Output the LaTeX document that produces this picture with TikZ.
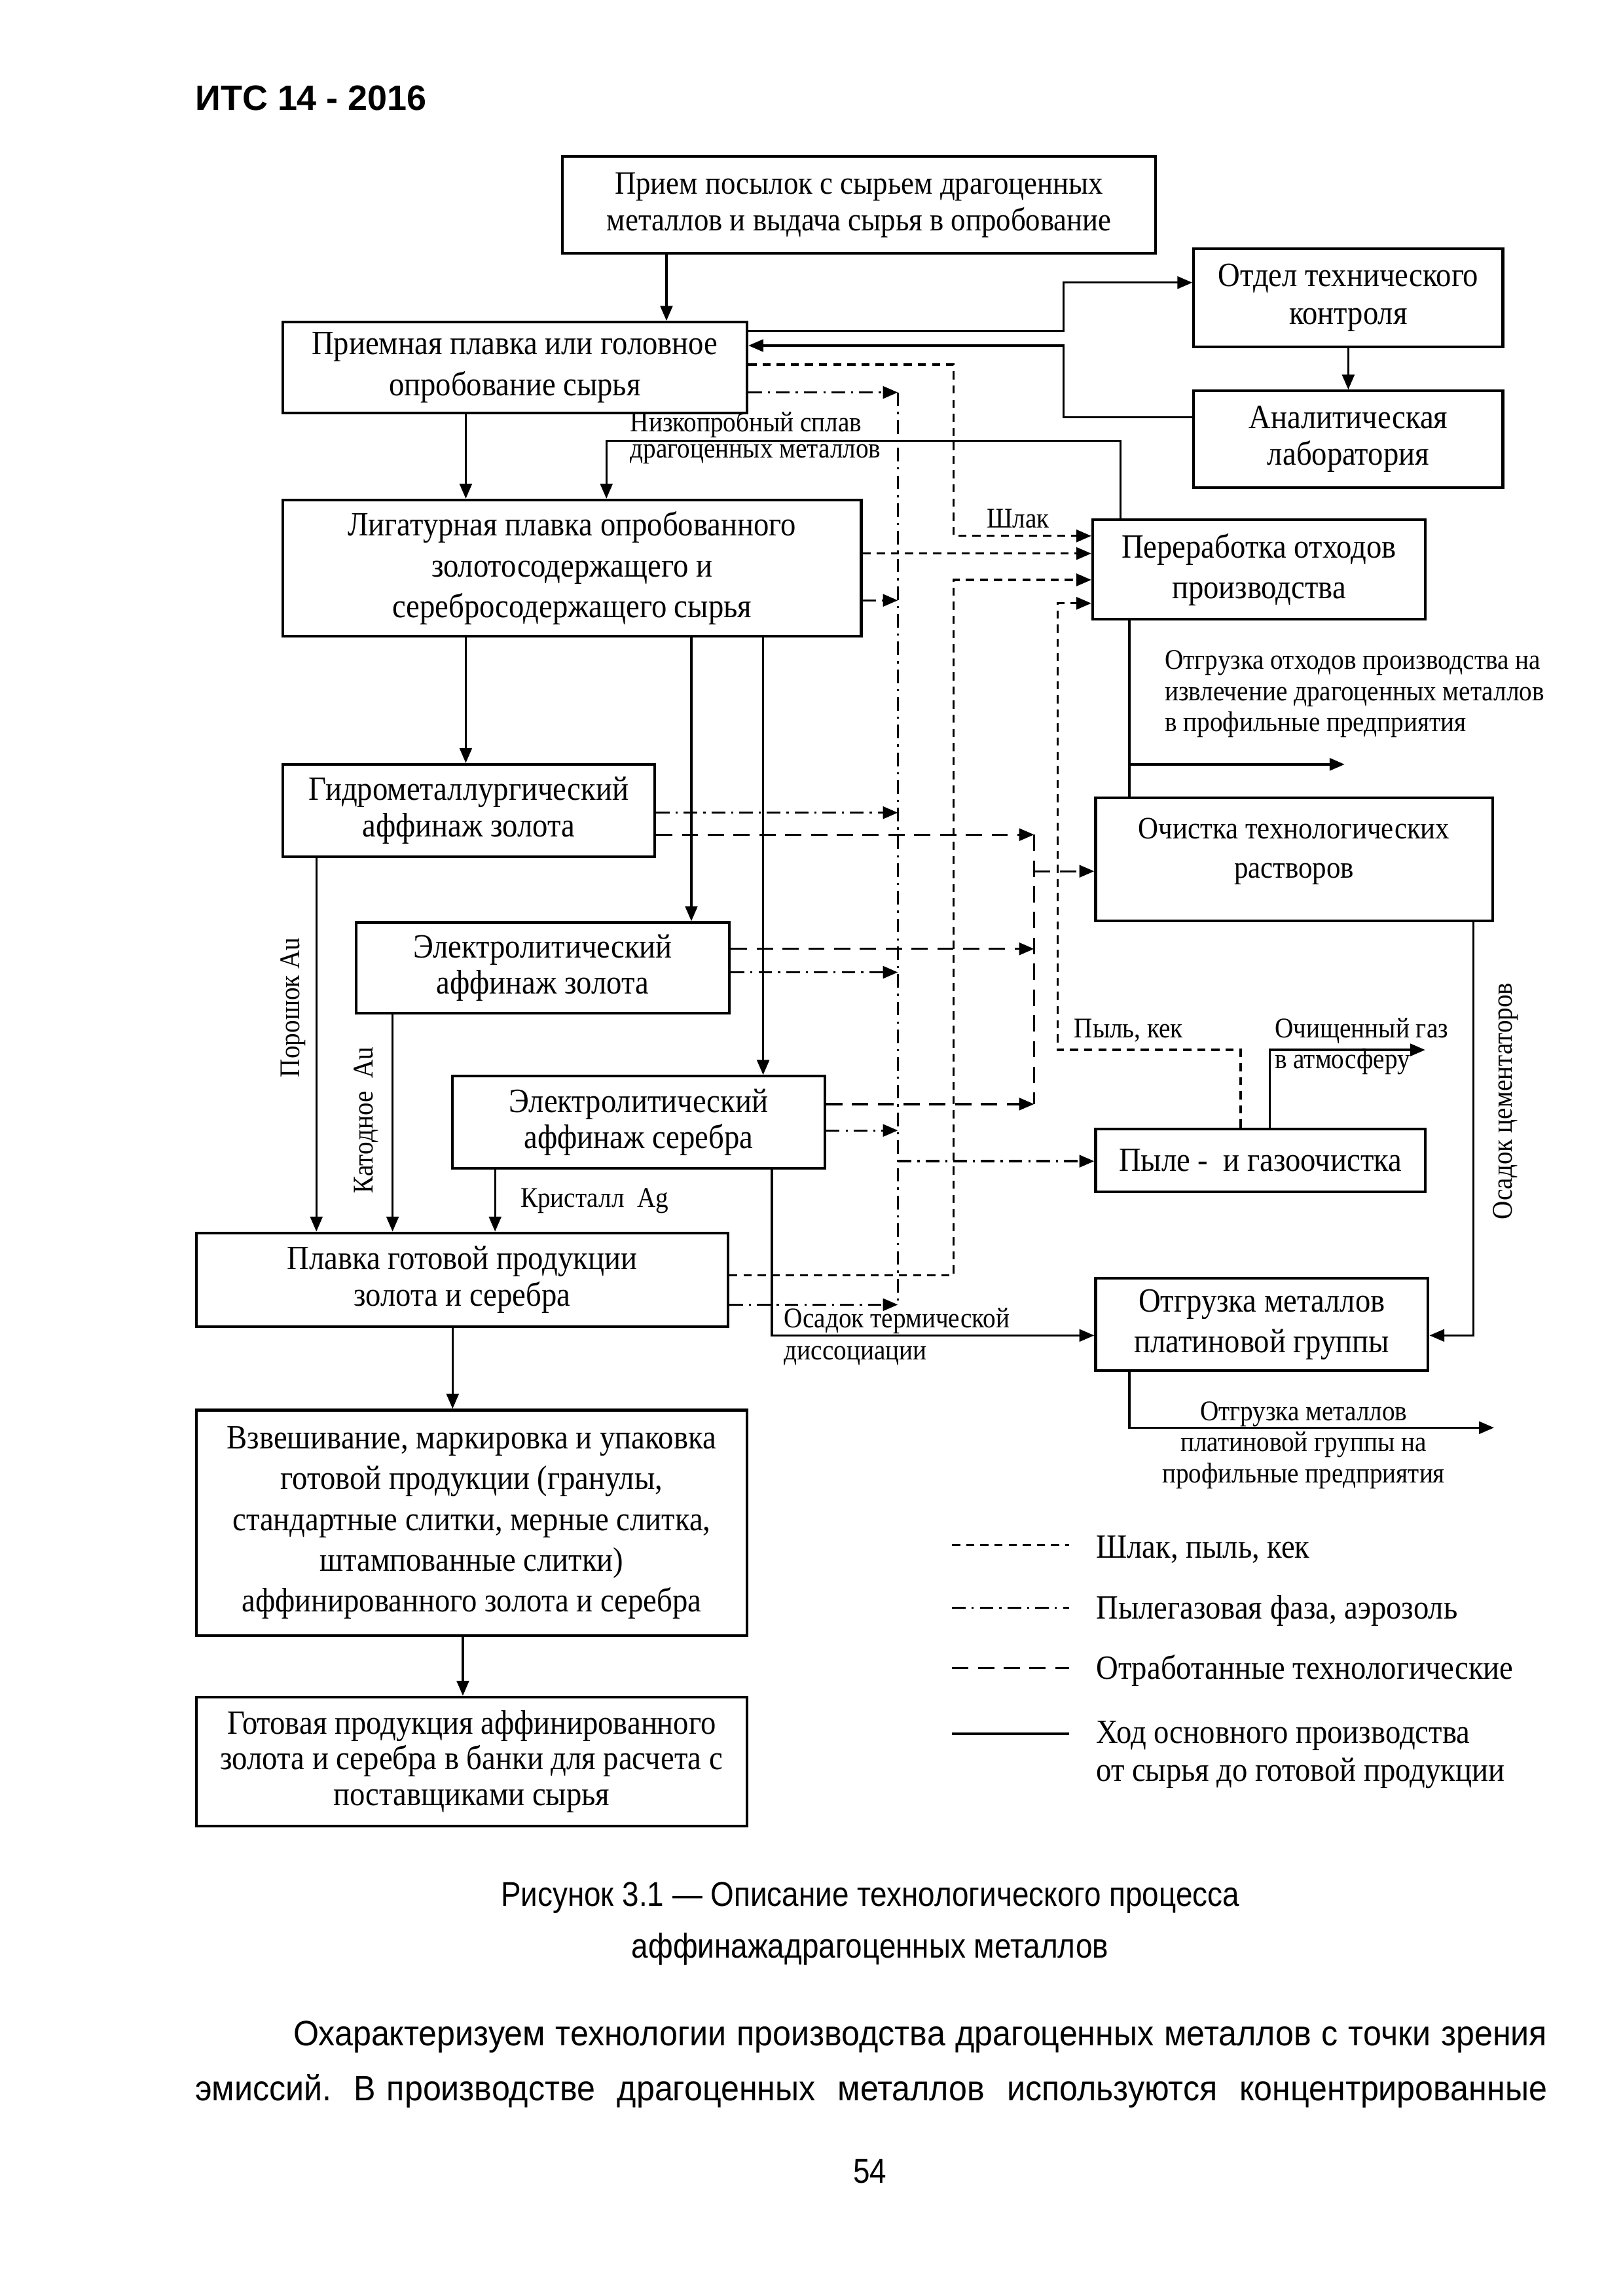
\documentclass[tikz,border=0pt]{standalone}
\usepackage{fontspec}
\setmainfont[FakeStretch=0.9]{Liberation Serif}
\newfontfamily\arialfont{Liberation Sans}
\newfontfamily\arialnarrow[FakeStretch=0.87]{Liberation Sans}
\newfontfamily\bodyfont[FakeStretch=0.93]{Liberation Sans}
\usetikzlibrary{arrows.meta}

\tikzset{
  box/.style={draw, line width=1pt, align=center, inner sep=0pt, font=\fontsize{12.5}{15}\selectfont},
  tip/.style={-{Triangle[length=5.5pt,width=4.5pt]}},
  main/.style={line width=0.8pt, tip},
  mainline/.style={line width=0.8pt},
  slag/.style={line width=0.8pt, dash pattern=on 3pt off 2.2pt, tip},
  gas/.style={line width=0.8pt, dash pattern=on 5pt off 2.2pt on 0.8pt off 2.2pt, tip},
  gasline/.style={line width=0.8pt, dash pattern=on 5pt off 2.2pt on 0.8pt off 2.2pt},
  sol/.style={line width=0.8pt, dash pattern=on 6pt off 3.5pt, tip},
  solline/.style={line width=0.8pt, dash pattern=on 6pt off 3.5pt},
  lbl/.style={font=\fontsize{10.5}{11.5}\selectfont, inner sep=0pt, align=left},
  legtext/.style={font=\fontsize{12.5}{14}\selectfont, inner sep=0pt, anchor=west, align=left},
  pagetext/.style={font=\arialnarrow\fontsize{12.7}{19}\selectfont, inner sep=0pt},
}

\begin{document}
\begin{tikzpicture}[x=0.018952cm, y=-0.018952cm]
\useasboundingbox (0,0) rectangle (1108,1568);

% header
\node[inner sep=0pt, font=\arialfont\bfseries\fontsize{13}{15}\selectfont, anchor=west] (head) at (133,67) {ИТС 14 - 2016};

% boxes
\node[box, minimum width=7.676cm, minimum height=1.251cm, font=\fontsize{12}{13.4}\selectfont] (recv) at (586.5,140) {Прием посылок с сырьем драгоценных\\металлов и выдача сырья в опробование};
\node[box, minimum width=3.999cm, minimum height=1.270cm, font=\fontsize{12.5}{14}\selectfont] (otk) at (920.5,203.5) {Отдел технического\\контроля};
\node[box, minimum width=6.008cm, minimum height=1.175cm] (head melt) at (351.5,251) {Приемная плавка или головное\\опробование сырья};
\node[box, minimum width=3.999cm, minimum height=1.251cm, font=\fontsize{12.5}{13.4}\selectfont] (lab) at (920.5,300) {Аналитическая\\лаборатория};
\node[box, minimum width=7.486cm, minimum height=1.763cm] (alloy) at (390.5,388) {Лигатурная плавка опробованного\\золотосодержащего и\\серебросодержащего сырья};
\node[box, minimum width=4.302cm, minimum height=1.289cm] (waste) at (859.5,389) {Переработка отходов\\производства};
\node[box, minimum width=4.814cm, minimum height=1.194cm, font=\fontsize{12.5}{13.4}\selectfont] (hydro) at (320,553.5) {Гидрометаллургический\\аффинаж золота};
\node[box, minimum width=5.136cm, minimum height=1.592cm, font=\fontsize{11.5}{14.5}\selectfont] (clean) at (883.5,587) {Очистка технологических\\растворов\\[-6pt]};
\node[box, minimum width=4.833cm, minimum height=1.175cm, font=\fontsize{12.5}{13.4}\selectfont] (elau) at (370.5,661) {Электролитический\\аффинаж золота};
\node[box, minimum width=4.814cm, minimum height=1.194cm, font=\fontsize{12.5}{13.4}\selectfont] (elag) at (436,766.5) {Электролитический\\аффинаж серебра};
\node[box, minimum width=4.264cm, minimum height=0.815cm] (dust) at (860.5,792.5) {Пыле -\ \ и газоочистка};
\node[box, minimum width=6.880cm, minimum height=1.213cm, font=\fontsize{12.5}{13.4}\selectfont] (final) at (315.5,874) {Плавка готовой продукции\\золота и серебра};
\node[box, minimum width=4.302cm, minimum height=1.194cm] (pgm) at (861.5,904.5) {Отгрузка металлов\\платиновой группы};
\node[box, minimum width=7.126cm, minimum height=2.919cm] (pack) at (322,1040) {Взвешивание, маркировка и упаковка\\готовой продукции (гранулы,\\стандартные слитки, мерные слитка,\\штампованные слитки)\\аффинированного золота и серебра};
\node[box, minimum width=7.126cm, minimum height=1.668cm, font=\fontsize{12.5}{13.2}\selectfont] (bank) at (322,1203) {Готовая продукция аффинированного\\золота и серебра в банки для расчета с\\поставщиками сырья};

% collecting lines
\coordinate (gastop) at (613,268);
\coordinate (gasbot) at (613,891);
\coordinate (soltop) at (706,570);
\coordinate (solbot) at (706,754);
\coordinate (wasteout) at (918,522);
\coordinate (atm) at (973,717);
\coordinate (pgmout) at (1020,975);

% main flow
\draw[main] (recv.south -| 455,0) -- (head melt.north -| 455,0);
\draw[main] (head melt.east |- 0,226) -- (726,226) |- (otk.west |- 0,193);
\draw[main] (lab.west |- 0,285) -- (726,285) |- (head melt.east |- 0,236);
\draw[main] (otk.south) -- (lab.north);
\draw[main] (head melt.south -| 318,0) -- (alloy.north -| 318,0);
\draw[main] (waste.north -| 765,0) |- (414,301) -- (alloy.north -| 414,0);
\node[lbl, anchor=west] (low1) at (430,290) {Низкопробный сплав};
\node[lbl, anchor=west] (low2) at (430,310) {драгоценных металлов};
\draw[main] (alloy.south -| 318,0) -- (hydro.north -| 318,0);
\draw[main] (alloy.south -| 472,0) -- (elau.north -| 472,0);
\draw[main] (alloy.south -| 521,0) -- (elag.north -| 521,0);
\draw[main] (hydro.south -| 216,0) -- (final.north -| 216,0);
\node[lbl, rotate=90] (powder) at (200,688) {Порошок Au};
\draw[main] (elau.south -| 268,0) -- (final.north -| 268,0);
\node[lbl, rotate=90] (cathode) at (250,765) {Катодное\ \ Au};
\draw[main] (elag.south -| 338,0) -- (final.north -| 338,0);
\node[lbl, anchor=west] (crystal) at (355,820) {Кристалл\ \ Ag};
\draw[main] (elag.south -| 527,0) |- (pgm.west |- 0,912);
\node[lbl, anchor=west] (therm1) at (535,902) {Осадок термической};
\node[lbl, anchor=west] (therm2) at (535,926) {диссоциации};
\draw[main] (clean.south -| 1006,0) |- (pgm.east |- 0,912);
\node[lbl, rotate=90] (cement) at (1028,752) {Осадок цементаторов};
\draw[mainline] (waste.south -| 771,0) -- (clean.north -| 771,0);
\draw[main] (wasteout -| 771,0) -- (wasteout);
\node[lbl, anchor=west] (ship) at (795,474) {Отгрузка отходов производства на\\извлечение драгоценных металлов\\в профильные предприятия};
\draw[main] (dust.north -| 867,0) |- (atm);
\node[lbl, anchor=west] (gas1) at (870,704) {Очищенный газ};
\node[lbl, anchor=west] (gas2) at (870,725) {в атмосферу};
\draw[main] (pgm.south -| 771,0) |- (pgmout);
\node[lbl, align=center] (pgmtxt) at (890,987) {Отгрузка металлов\\платиновой группы на\\профильные предприятия};
\draw[main] (final.south -| 309,0) -- (pack.north -| 309,0);
\draw[main] (pack.south -| 316,0) -- (bank.north -| 316,0);

% slag, dust, cake
\draw[slag] (head melt.east |- 0,249) -- (651,249) |- (waste.west |- 0,366);
\node[lbl] (slagtxt) at (695,354) {Шлак};
\draw[slag] (alloy.east |- 0,378) -- (waste.west |- 0,378);
\draw[slag] (final.east |- 0,871) -| (651,396) -- (waste.west |- 0,396);
\draw[slag] (dust.north -| 847,0) |- (722,717) |- (waste.west |- 0,412);
\node[lbl, anchor=west] (dusttxt) at (733,704) {Пыль, кек};

% dust-gas phase
\draw[gasline] (gastop) -- (gasbot);
\draw[gas] (head melt.east |- gastop) -- (gastop);
\draw[gas] (alloy.east |- 0,410) -- (gastop |- 0,410);
\draw[gas] (hydro.east |- 0,555) -- (gastop |- 0,555);
\draw[gas] (elau.east |- 0,664) -- (gastop |- 0,664);
\draw[gas] (elag.east |- 0,772) -- (gastop |- 0,772);
\draw[gas] (final.east |- gasbot) -- (gasbot);
\draw[gas] (gastop |- 0,793) -- (dust.west |- 0,793);

% spent solutions
\draw[solline] (soltop) -- (solbot);
\draw[sol] (hydro.east |- soltop) -- (soltop);
\draw[sol] (elau.east |- 0,648) -- (soltop |- 0,648);
\draw[sol] (elag.east |- solbot) -- (solbot);
\draw[sol] (soltop |- 0,595) -- (clean.west |- 0,595);

% legend
\draw[line width=0.75pt, dash pattern=on 3pt off 2.2pt] (650,1055) -- (730,1055);
\node[legtext] (leg1) at (748,1058) {Шлак, пыль, кек};
\draw[gasline, line width=0.6pt] (650,1098) -- (730,1098);
\node[legtext] (leg2) at (748,1100) {Пылегазовая фаза, аэрозоль};
\draw[solline] (650,1139) -- (730,1139);
\node[legtext] (leg3) at (748,1141) {Отработанные технологические};
\draw[line width=1pt] (650,1184) -- (730,1184);
\node[legtext, anchor=north west] (leg4) at (748,1175) {Ход основного производства\\от сырья до готовой продукции};

% caption and page text
\node[pagetext] (cap1) at (594,1296) {Рисунок 3.1 — Описание технологического процесса};
\node[pagetext] (cap2) at (594,1331) {аффинажадрагоценных металлов};
\node[pagetext, font=\bodyfont\fontsize{13}{19}\selectfont, anchor=west] (body1) at (200,1391) {\makebox[16.22cm][s]{Охарактеризуем технологии производства драгоценных металлов с точки зрения}};
\node[pagetext, font=\bodyfont\fontsize{13}{19}\selectfont, anchor=west] (body2) at (133,1428) {\makebox[17.49cm][s]{эмиссий.\ \ В производстве\ \ драгоценных\ \ металлов\ \ используются\ \ концентрированные}};
\node[pagetext] (pagenum) at (594,1483) {54};
\end{tikzpicture}
\end{document}
